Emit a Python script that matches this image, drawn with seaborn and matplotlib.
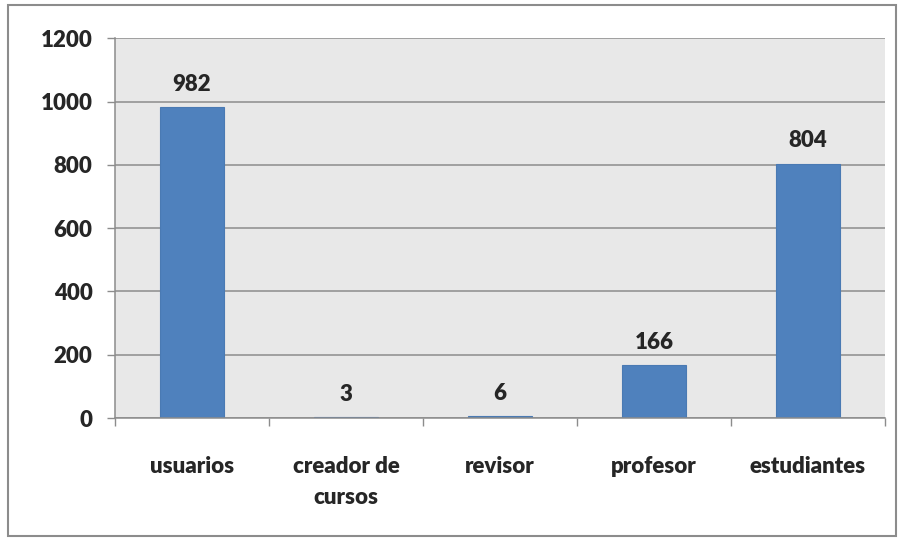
import pandas as pd
import seaborn as sns
import matplotlib.pyplot as plt
from matplotlib.patches import Rectangle

# Data
categories = ['usuarios', 'creador de\ncursos', 'revisor', 'profesor', 'estudiantes']
counts = [982, 3, 6, 166, 804]
y_ticks = [0, 200, 400, 600, 800, 1000, 1200]

df = pd.DataFrame({'categoria': categories, 'cantidad': counts})

sns.set_style('white')
plt.rcParams['font.family'] = ['Lato', 'DejaVu Sans']

fig = plt.figure(figsize=(9.01, 5.38), dpi=100)
ax = fig.add_axes([0.1276, 0.223, 0.8546, 0.706])

sns.barplot(data=df, x='categoria', y='cantidad', color='#4f81bd',
            width=0.41, saturation=1, edgecolor='#4a7ab3', linewidth=0.8, ax=ax)

ax.set_facecolor('#e8e8e8')
ax.set_ylim(0, 1200)
ax.set_xlim(-0.5, len(categories) - 0.5)
ax.set_yticks(y_ticks)
ax.set_yticklabels([str(t) for t in y_ticks], fontsize=16, fontweight='heavy')
ax.yaxis.grid(True, color='#8c8c8c', linewidth=1.1)
ax.set_axisbelow(True)

# category labels centred, tick marks between categories
ax.set_xticks(range(len(categories)))
ax.set_xticklabels(categories, fontsize=16, fontweight='heavy', linespacing=1.6, va='top')
ax.set_xticks([i - 0.5 for i in range(len(categories) + 1)], minor=True)
ax.tick_params(axis='x', which='major', length=0, pad=27)
ax.tick_params(axis='x', which='minor', length=6, width=1, color='#8c8c8c', bottom=True)
ax.tick_params(axis='y', length=6, width=1, color='#8c8c8c', left=True, pad=10)

ax.set_xlabel('')
ax.set_ylabel('')
for side in ['top', 'right']:
    ax.spines[side].set_visible(False)
for side in ['left', 'bottom']:
    ax.spines[side].set_color('#8c8c8c')
    ax.spines[side].set_linewidth(1.1)

# value labels above bars
for i, v in enumerate(counts):
    ax.annotate(str(v), (i, v), xytext=(0, 9), textcoords='offset points',
                ha='center', va='bottom', fontsize=16, fontweight='heavy')

# outer chart border
fig.patches.append(Rectangle((0.009, 0.004), 0.985, 0.986, transform=fig.transFigure,
                             fill=False, edgecolor='#8c8c8c', linewidth=1.5))

fig.savefig('out.png', dpi=100)
